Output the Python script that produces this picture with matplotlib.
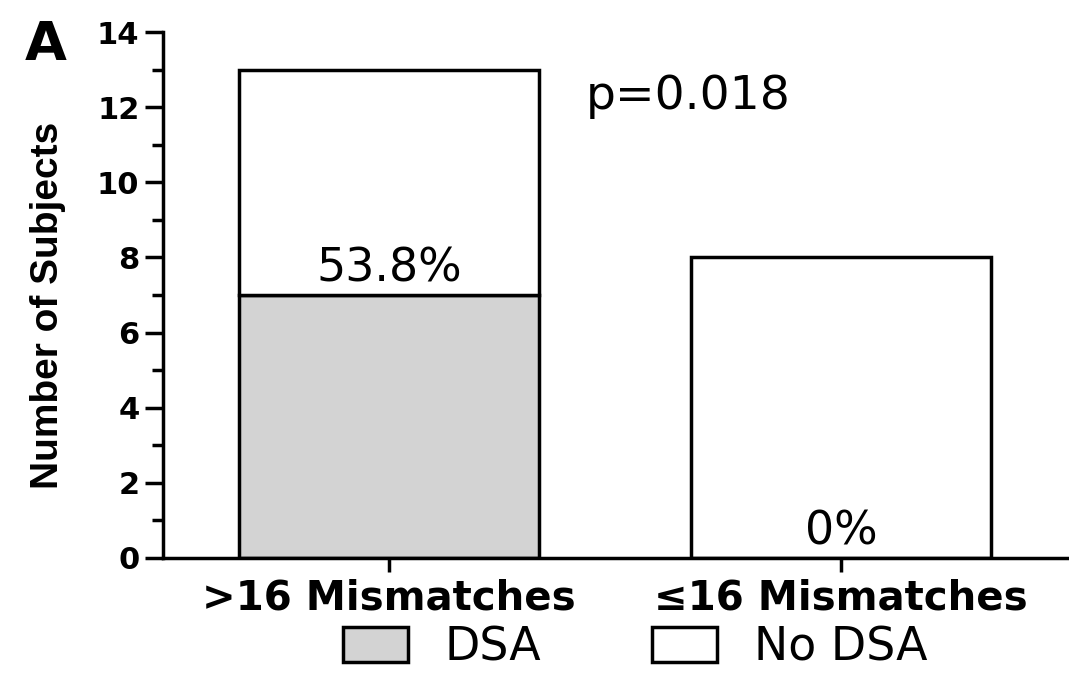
import matplotlib
matplotlib.use("Agg")
import matplotlib.pyplot as plt
from matplotlib.patches import Patch
from matplotlib.ticker import MultipleLocator

# Subjects per mismatch group, split by donor-specific antibody status
categories = [">16 Mismatches", "\u226416 Mismatches"]
dsa = [7, 0]
no_dsa = [6, 8]
p_value_text = "p=0.018"
panel_label = "A"
y_label = "Number of Subjects"
legend_labels = ["DSA", "No DSA"]

GRAY = "#d3d3d3"
LW = 2.5

fig = plt.figure(figsize=(10.69, 6.87), dpi=100)
ax = fig.add_axes([0.1525, 0.1878, 0.8455, 0.7656])

x = range(len(categories))
ax.bar(x, dsa, width=0.665, color=GRAY, edgecolor="black", linewidth=LW, zorder=2)
ax.bar(x, no_dsa, width=0.665, bottom=dsa, color="white", edgecolor="black",
       linewidth=LW, zorder=2)

# Percentage of subjects with DSA in each group, written above the DSA segment
for xi, d, n in zip(x, dsa, no_dsa):
    pct = 100.0 * d / (d + n)
    txt = ("%.1f" % pct).rstrip("0").rstrip(".") + "%"
    ax.annotate(txt, xy=(xi, d), xytext=(0, 10), textcoords="offset points",
                ha="center", va="baseline", fontsize=33, family="DejaVu Sans",
                zorder=3)

ax.text(0.436, 11.95, p_value_text, ha="left", va="baseline", fontsize=34,
        family="DejaVu Sans")

ax.set_xlim(-0.5, 1.5)
ax.set_ylim(0, 14)
ax.yaxis.set_major_locator(MultipleLocator(2))
ax.yaxis.set_minor_locator(MultipleLocator(1))
ax.set_xticks(list(x))
ax.set_xticklabels(categories, fontsize=29, fontweight="bold", family="DejaVu Sans")
for lab in ax.get_yticklabels():
    lab.set_fontsize(22)
    lab.set_fontweight("bold")
    lab.set_family("DejaVu Sans")

for side in ("top", "right"):
    ax.spines[side].set_visible(False)
for side in ("left", "bottom"):
    ax.spines[side].set_linewidth(LW)
ax.tick_params(axis="y", which="major", length=13, width=LW, pad=4)
ax.tick_params(axis="y", which="minor", length=8, width=LW)
ax.tick_params(axis="x", which="major", length=10, width=LW, pad=5)

fig.text(0.045, 1 - 305 / 687, y_label, rotation=90, ha="center", va="center",
         fontsize=28, fontweight="bold", family="Liberation Sans")

fig.text(46 / 1069, 1 - 45 / 687, panel_label, ha="center", va="center",
         fontsize=39, fontweight="bold", family="DejaVu Sans")

handles = [Patch(facecolor=GRAY, edgecolor="black", linewidth=LW),
           Patch(facecolor="white", edgecolor="black", linewidth=LW)]
fig.legend(handles, legend_labels, loc="center", bbox_to_anchor=(0.594, 0.0568),
           ncol=2, frameon=False, prop={"family": "DejaVu Sans", "size": 33},
           handlelength=1.43, handleheight=0.78, handletextpad=0.8,
           columnspacing=2.4, borderpad=0)

fig.savefig("out.png", dpi=100)
